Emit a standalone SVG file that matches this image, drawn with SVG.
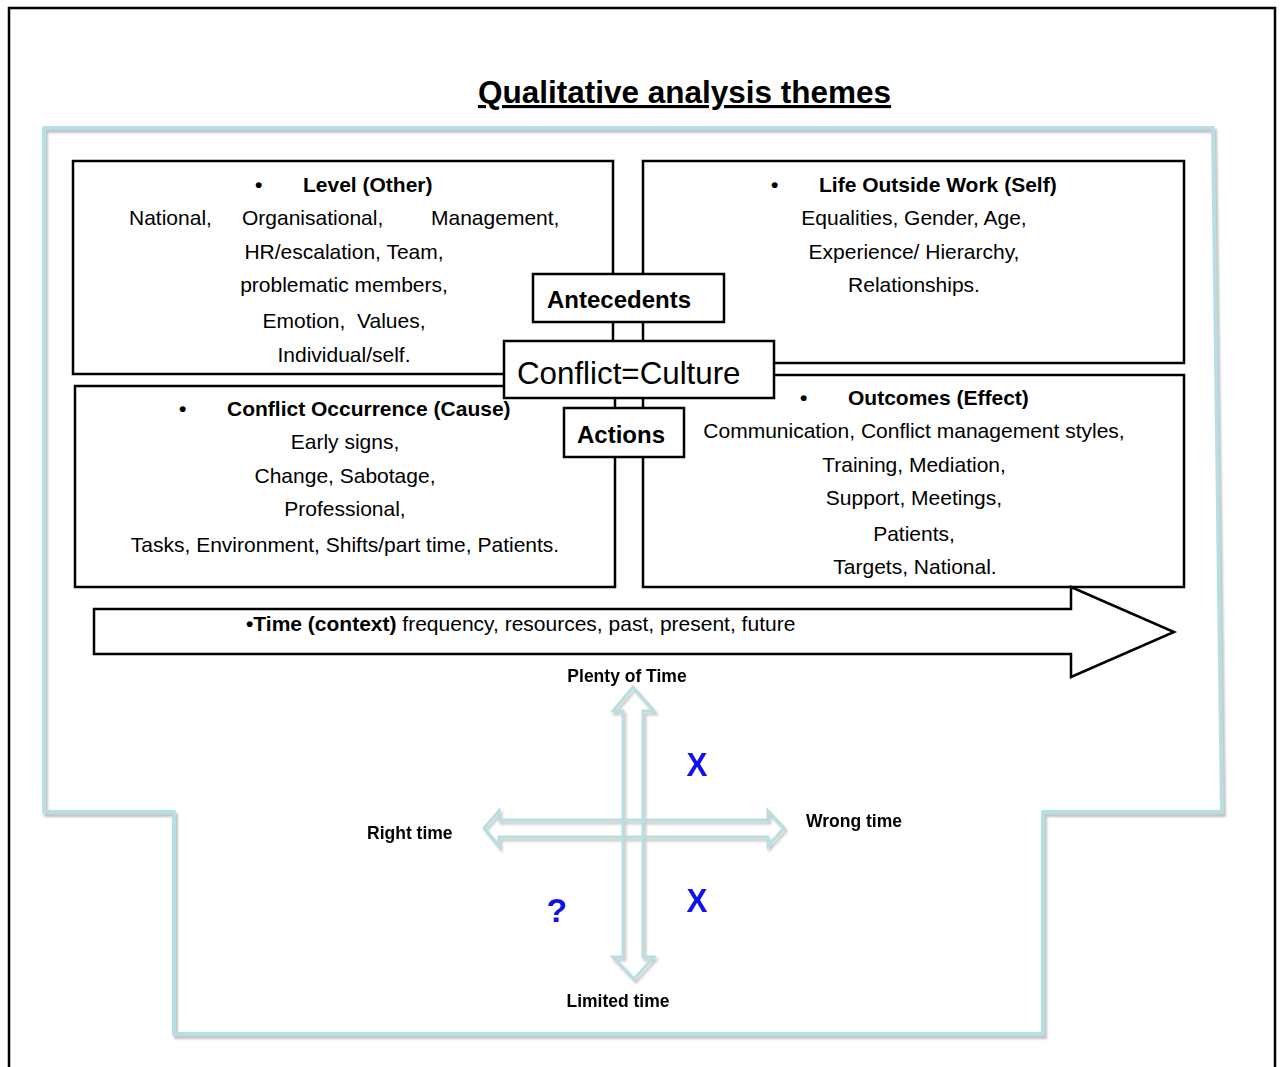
<svg xmlns="http://www.w3.org/2000/svg" width="1283" height="1067" viewBox="0 0 1283 1067">
  <defs>
    <filter id="soft" x="-5%" y="-5%" width="110%" height="110%">
      <feGaussianBlur stdDeviation="1.2"/>
    </filter>
  </defs>
  <style>
    text { font-family: "Liberation Sans", Arial, sans-serif; fill: #000; }
    .box { fill: #fff; stroke: #000; stroke-width: 2.5; }
    .body { font-size: 21px; }
    .head { font-size: 21px; font-weight: bold; }
    .mid { text-anchor: middle; }
    .tag { font-size: 24px; font-weight: bold; }
    .axis { font-size: 17.5px; font-weight: bold; }
    .mark { font-size: 34px; font-weight: bold; fill: #1010f0; text-anchor: middle; }
    .frame { fill: none; stroke: #b7dee2; stroke-width: 4; stroke-linejoin: round; }
    .shade { fill: none; stroke: #c2c2c2; stroke-width: 4; filter: url(#soft); }
    .axisArrow { fill: none; stroke: #b7dee2; stroke-width: 3; stroke-linejoin: miter; }
  </style>

  <rect width="1283" height="1067" fill="#fff"/>

  <!-- page border -->
  <rect x="9" y="8" width="1266" height="1080" fill="none" stroke="#000" stroke-width="2.5"/>

  <!-- title -->
  <g id="title">
    <text x="684.5" y="103" font-size="31.5" font-weight="bold" text-anchor="middle" text-decoration="underline">Qualitative analysis themes</text>
  </g>

  <!-- stepped light-blue frame -->
  <g id="frame">
    <polygon class="shade" transform="translate(2,3)" points="44,128 1213,128 1222,812 1043,812 1043,1034 174,1034 174,812 44,812"/>
    <polygon class="frame" points="44,128 1213,128 1222,812 1043,812 1043,1034 174,1034 174,812 44,812"/>
  </g>

  <!-- quadrant: level -->
  <g id="level">
    <rect class="box" x="73" y="161" width="540" height="213"/>
    <text class="head" x="255" y="192">•</text>
    <text class="head" x="303" y="192">Level (Other)</text>
    <text class="body" x="129" y="225">National,</text>
    <text class="body" x="242" y="225">Organisational,</text>
    <text class="body" x="431" y="225">Management,</text>
    <text class="body mid" x="344" y="259">HR/escalation, Team,</text>
    <text class="body mid" x="344" y="292">problematic members,</text>
    <text class="body mid" x="344" y="328" xml:space="preserve">Emotion,  Values,</text>
    <text class="body mid" x="344" y="362">Individual/self.</text>
  </g>

  <!-- quadrant: life outside work -->
  <g id="life-outside-work">
    <rect class="box" x="643" y="161" width="541" height="202"/>
    <text class="head" x="771" y="192">•</text>
    <text class="head" x="819" y="192">Life Outside Work (Self)</text>
    <text class="body mid" x="914" y="225">Equalities, Gender, Age,</text>
    <text class="body mid" x="914" y="259">Experience/ Hierarchy,</text>
    <text class="body mid" x="914" y="292">Relationships.</text>
  </g>

  <!-- quadrant: conflict occurrence -->
  <g id="conflict-occurrence">
    <rect class="box" x="75" y="386" width="540" height="201"/>
    <text class="head" x="179" y="416">•</text>
    <text class="head" x="227" y="416">Conflict Occurrence (Cause)</text>
    <text class="body mid" x="345" y="449">Early signs,</text>
    <text class="body mid" x="345" y="483">Change, Sabotage,</text>
    <text class="body mid" x="345" y="516">Professional,</text>
    <text class="body mid" x="345" y="552">Tasks, Environment, Shifts/part time, Patients.</text>
  </g>

  <!-- quadrant: outcomes -->
  <g id="outcomes">
    <rect class="box" x="643" y="375" width="541" height="212"/>
    <text class="head" x="800" y="405">•</text>
    <text class="head" x="848" y="405">Outcomes (Effect)</text>
    <text class="body mid" x="914" y="438">Communication, Conflict management styles,</text>
    <text class="body mid" x="914" y="472">Training, Mediation,</text>
    <text class="body mid" x="914" y="505">Support, Meetings,</text>
    <text class="body mid" x="914" y="541">Patients,</text>
    <text class="body mid" x="915" y="574">Targets, National.</text>
  </g>

  <!-- centre labels -->
  <g id="antecedents">
    <rect class="box" x="533" y="274" width="191" height="48"/>
    <text class="tag" x="547" y="308">Antecedents</text>
  </g>
  <g id="conflict-culture">
    <rect class="box" x="504" y="341" width="270" height="57"/>
    <text x="517" y="384" font-size="31.3">Conflict=Culture</text>
  </g>
  <g id="actions">
    <rect class="box" x="564" y="408" width="120" height="49"/>
    <text class="tag" x="577" y="443">Actions</text>
  </g>

  <!-- time arrow -->
  <g id="time">
    <polygon points="94,609 1071,609 1071,587 1174,632 1071,677 1071,654 94,654" fill="#fff" stroke="#000" stroke-width="2.5" stroke-linejoin="miter"/>
    <text class="body" x="246" y="631"><tspan font-weight="bold">•Time (context)</tspan> frequency, resources, past, present, future</text>
  </g>

  <!-- time axes -->
  <g id="connectors">
    <g filter="url(#soft)" opacity="0.8">
      <polygon transform="translate(2,3)" fill="none" stroke="#bdbdbd" stroke-width="3" points="484,828 499,811 499,820 768,820 768,811 784,828 768,846 768,837 499,837 499,846"/>
      <polygon transform="translate(2,3)" fill="none" stroke="#bdbdbd" stroke-width="3" points="633,687 654,711 643,711 643,957 654,957 634,979 613,957 623,957 623,711 613,711"/>
    </g>
    <polygon id="axis-horizontal" class="axisArrow" points="484,828 499,811 499,820 768,820 768,811 784,828 768,846 768,837 499,837 499,846"/>
    <polygon id="axis-vertical" class="axisArrow" points="633,687 654,711 643,711 643,957 654,957 634,979 613,957 623,957 623,711 613,711"/>
  </g>

  <g id="plenty-of-time"><text class="axis mid" x="627" y="682">Plenty of Time</text></g>
  <g id="limited-time"><text class="axis mid" x="618" y="1007">Limited time</text></g>
  <g id="right-time"><text class="axis" x="367" y="839">Right time</text></g>
  <g id="wrong-time"><text class="axis" x="806" y="827">Wrong time</text></g>

  <g id="marks">
    <text class="mark" x="697" y="776" textLength="21" lengthAdjust="spacingAndGlyphs">X</text>
    <text class="mark" x="697" y="912" textLength="21" lengthAdjust="spacingAndGlyphs">X</text>
    <text class="mark" x="557" y="922" font-size="32">?</text>
  </g>
</svg>
